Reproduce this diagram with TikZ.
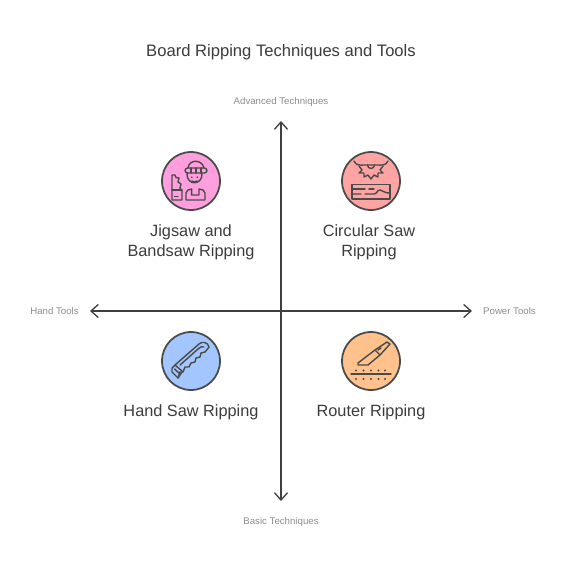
\documentclass[tikz,border=0pt]{standalone}
\usepackage{fontspec}
\setmainfont{Liberation Sans}
\usepackage{tikz}
\usetikzlibrary{arrows.meta}
\definecolor{inkc}{HTML}{4A4A4A}
\definecolor{axisc}{HTML}{3F3F3F}
\definecolor{labelc}{HTML}{8C8C8C}
\definecolor{titlec}{HTML}{3C3C3C}
\definecolor{pinkc}{HTML}{FF9FDD}
\definecolor{redc}{HTML}{FFA3A3}
\definecolor{bluec}{HTML}{A3C6FF}
\definecolor{orangec}{HTML}{FFC28C}
\tikzset{
  badge/.style={circle, draw=inkc, line width=1pt, minimum size=1.16cm, inner sep=0pt},
  icon/.style={draw=inkc, line width=0.8pt, line join=round, line cap=round},
  quadtext/.style={text=titlec, font=\fontsize{9.28}{11.3}\selectfont, align=center},
  axislabel/.style={text=labelc, font=\fontsize{5.5}{6.5}\selectfont},
  axisline/.style={draw=axisc, line width=0.75pt, {Straight Barb[length=4.2pt,width=7.5pt]}-{Straight Barb[length=4.2pt,width=7.5pt]}}
}
\begin{document}
\begin{tikzpicture}[x=0.02cm, y=-0.02cm, line join=round, line cap=round]
      \useasboundingbox (0,0) rectangle (562,572);
      \def\xl{191}
      \def\xr{371}
      \def\yt{181}
      \def\yb{361}
      \node[text=titlec, font=\fontsize{9.45}{11}\selectfont] (title) at (281,52) {Board Ripping Techniques and Tools};
      % axes
      \coordinate (T) at (281,121); \coordinate (B) at (281,501);
      \coordinate (L) at (90,311); \coordinate (R) at (472,311);
      \draw[axisline] (L) -- (R);
      \draw[axisline] (B) -- (T);
      \node[axislabel] (advanced) at (281,101.5) {Advanced Techniques};
      \node[axislabel] (basic) at (281,521.5) {Basic Techniques};
      \node[axislabel] (hand) at (54.5,311) {Hand Tools};
      \node[axislabel] (power) at (509.5,311) {Power Tools};
      % badges
      \node[badge, fill=pinkc] (jigsaw) at (\xl,\yt) {};
      \node[badge, fill=redc] (circular) at (\xr,\yt) {};
      \node[badge, fill=bluec] (handsaw) at (\xl,\yb) {};
      \node[badge, fill=orangec] (router) at (\xr,\yb) {};
      \node[quadtext] (jigsawtext) at (\xl,242) {Jigsaw and\\Bandsaw Ripping};
      \node[quadtext] (circulartext) at (369,242) {Circular Saw\\Ripping};
      \node[quadtext] (handsawtext) at (\xl,412) {Hand Saw Ripping};
      \node[quadtext] (routertext) at (\xr,412) {Router Ripping};
      % worker with saw
      \begin{scope}[shift={(\xl,\yt)}, icon]
        \draw (-4,-8) .. controls (-5,5) and (12,5) .. (11,-8);
        \draw[rounded corners=1.5pt] (-6,-13) rectangle (16,-8);
        \draw (-3,-13) .. controls (-2,-22) and (11,-22) .. (13,-13);
        \foreach \xs in {0,5,10} \draw (\xs,-13) -- (\xs,-8);
        \fill[inkc] (0.8,-3.7) circle (0.9) (6.3,-3.7) circle (0.9);
        \draw (1,0) .. controls (2,1.3) and (5,1.3) .. (6,0);
        \draw (-5,19) -- (-5,12) .. controls (-5,9.5) and (-2,8) .. (0.7,8) -- (0.7,14) -- (8,14) -- (8,8)
          .. controls (11,8) and (14,9.5) .. (14,12) -- (14,19) -- cycle;
        \draw (-19,-6) -- (-19,19) -- (-9,19) -- (-9,10) -- (-11,7) -- (-10,3) -- (-13,1) -- (-12,-3) -- (-15,-3.5) -- (-16,-6) -- cycle;
        \draw (-19,9) -- (-9,9);
        \draw (-16.5,15.5) -- (-13,15.5);
      \end{scope}
      % circular saw over a board
      \begin{scope}[shift={(\xr,\yt)}, icon]
        \draw (-17,-20) .. controls (-15,-15) and (-10,-16) .. (-7,-16) -- (7,-16) .. controls (10,-16) and (15,-15) .. (17,-20);
        \draw (-3.5,-16) arc (180:360:3.5 and -3.5);
        \draw (-12,-15) -- (-9,-11) -- (-12,-8) -- (-7,-8) -- (-7,-4) -- (-3,-6) -- (0,-2) -- (3,-6) -- (7,-4) -- (7,-8) -- (12,-8) -- (9,-11) -- (12,-15);
        \draw (-19,3.5) rectangle (19,18);
        \draw (-19,8) -- (-6,8) (-2,8) -- (3,8);
        \draw (-19,13) -- (-10,13) (-6,13) -- (3,13) .. controls (6,13) and (6,9) .. (9,9) .. controls (12,9) and (12,12) .. (19,12);
      \end{scope}
      % hand saw
      \begin{scope}[shift={(\xl,\yb)}, icon]
        \draw (-16,4) -- (8,-17) .. controls (11,-20) and (17,-19) .. (18,-14) -- (14,-9);
        \draw (14,-9) -- (10,-8) -- (9,-4) -- (5,-3) -- (4,1) -- (0,2) -- (-2,6) -- (-6,6) -- (-8,11) -- (-11,11) -- (-13,17);
        \draw (13,-14) .. controls (11,-15) and (9,-14) .. (7,-12) -- (-11,4);
        \draw (-19,7) -- (-16,4) -- (-9,10) -- (-9,11) -- (-13,17) -- (-19,11) -- cycle;
        \draw (-16.5,8) -- (-11.5,12.5);
      \end{scope}
      % knife over a dotted line
      \begin{scope}[shift={(\xr,\yb)}, icon]
        \draw (-13,2) -- (4,-11) -- (9,-6) -- (-3,4) -- (-13,4) -- cycle;
        \draw (4,-11) -- (16,-19) -- (19,-17) -- (9,-6);
        \draw (7,-11) -- (10,-13);
        \draw (-20,13) -- (20,13);
        \foreach \xs in {-15,-7.5,0,7.5,14} \fill[inkc] (\xs,9.5) circle (1.2) (\xs,18) circle (1.2);
      \end{scope}
    \end{tikzpicture}
\end{document}
